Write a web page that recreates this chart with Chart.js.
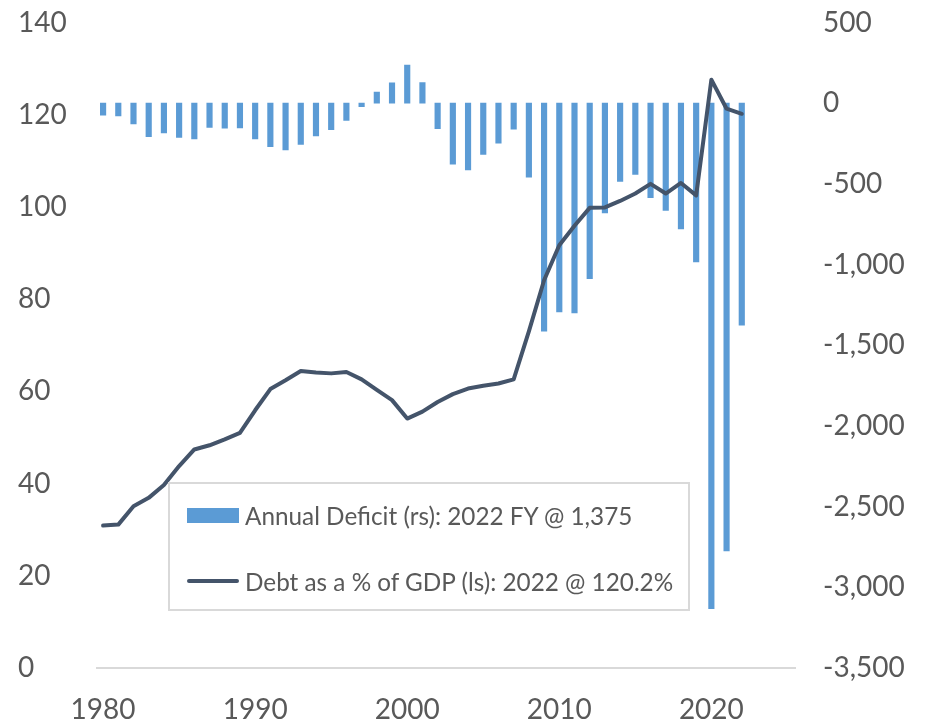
<!DOCTYPE html>
<html>
<head>
<meta charset="utf-8">
<script src="https://cdn.jsdelivr.net/npm/chart.js@4"></script>
<style>
  html, body { margin: 0; padding: 0; background: #fff; }
  #wrap { position: relative; width: 928px; height: 724px; }
  #legend {
    position: absolute; left: 168px; top: 482px; width: 522px; height: 129px;
    box-sizing: border-box; border: 2px solid #d9d9d9;
    font-family: Lato, sans-serif; font-size: 24.3px; color: #595959;
  }
  .item { position: absolute; left: 17px; display: flex; align-items: center; height: 30px; white-space: nowrap; }
  .swatch { width: 52px; margin-right: 6px; }
</style>
</head>
<body>
<div id="wrap">
  <canvas id="debtChart" width="928" height="724"></canvas>
  <div id="legend"></div>
</div>
<script>
// US federal budget: annual surplus/deficit ($bn, right scale) and debt as % of GDP (left scale)
const years = [1980, 1981, 1982, 1983, 1984, 1985, 1986, 1987, 1988, 1989,
  1990, 1991, 1992, 1993, 1994, 1995, 1996, 1997, 1998, 1999,
  2000, 2001, 2002, 2003, 2004, 2005, 2006, 2007, 2008, 2009,
  2010, 2011, 2012, 2013, 2014, 2015, 2016, 2017, 2018, 2019,
  2020, 2021, 2022];

const deficit = [-74, -79, -128, -208, -185, -212, -221, -150, -155, -153,
  -221, -269, -290, -255, -203, -164, -107, -22, 69, 126,
  236, 128, -158, -378, -413, -318, -248, -161, -459, -1413,
  -1294, -1300, -1087, -680, -485, -442, -585, -665, -779, -984,
  -3132, -2775, -1375];

const debtPct = [30.9, 31.1, 35.1, 36.9, 39.7, 43.8, 47.4, 48.3, 49.6, 51.0,
  55.9, 60.5, 62.4, 64.4, 64.1, 63.9, 64.2, 62.6, 60.3, 58.1,
  54.1, 55.6, 57.7, 59.4, 60.6, 61.2, 61.7, 62.6, 73.0, 84.1,
  91.7, 95.9, 99.8, 99.9, 101.3, 102.9, 105.0, 102.9, 105.2, 102.5,
  127.6, 121.3, 120.2];

const xTicks = [1980, 1990, 2000, 2010, 2020];
const seriesLabels = ['Annual Deficit (rs): 2022 FY @ 1,375', 'Debt as a % of GDP (ls): 2022 @ 120.2%'];

const BAR = '#5b9bd5';
const LINE = '#44546a';
const TEXT = '#595959';

Chart.defaults.font.family = "Lato, 'Open Sans', sans-serif";
Chart.defaults.font.size = 28;
Chart.defaults.color = TEXT;

const toXY = vals => vals.map((v, i) => ({ x: years[i], y: v }));

// fixed axis box width; drop the label overhang so the plot spans the full height
const fixWidth = w => s => { s.width = w; s.paddingTop = 0; s.paddingBottom = 0; };

new Chart(document.getElementById('debtChart'), {
  type: 'bar',
  data: {
    datasets: [
      {
        type: 'line',
        label: seriesLabels[1],
        data: toXY(debtPct),
        yAxisID: 'yL',
        borderColor: LINE,
        borderWidth: 4,
        borderJoinStyle: 'round',
        borderCapStyle: 'round',
        pointRadius: 0,
        tension: 0,
        order: 0,
      },
      {
        type: 'bar',
        label: seriesLabels[0],
        data: toXY(deficit),
        yAxisID: 'yR',
        backgroundColor: BAR,
        barThickness: 5.5,
        order: 1,
      }
    ]
  },
  options: {
    responsive: false,
    animation: false,
    layout: { padding: { left: 18, top: 22.5, right: 0, bottom: 0 } },
    plugins: { legend: { display: false }, tooltip: { enabled: false } },
    scales: {
      x: {
        type: 'linear',
        offset: false,
        min: 1979.6,
        max: 2025.5,
        grid: { display: false, drawTicks: false },
        border: { display: true, color: '#d9d9d9', width: 2 },
        afterBuildTicks: s => { s.ticks = xTicks.map(v => ({ value: v })); },
        afterFit: s => { s.height = 56; },
        ticks: { padding: 25, maxRotation: 0, callback: v => String(v) },
      },
      yL: {
        position: 'left',
        min: 0,
        max: 140,
        grid: { display: false, drawTicks: false },
        border: { display: false },
        afterFit: fixWidth(79),
        ticks: { stepSize: 20, padding: 30, crossAlign: 'far' },
      },
      yR: {
        position: 'right',
        min: -3500,
        max: 500,
        grid: { display: false, drawTicks: false },
        border: { display: false },
        afterFit: fixWidth(133),
        ticks: { stepSize: 500, padding: 28, callback: v => v.toLocaleString('en-US') },
      }
    }
  }
});

// legend box inside the plot
const legend = document.getElementById('legend');
const rows = [
  { label: seriesLabels[0], top: 16, swatch: `height:15px;background:${BAR};` },
  { label: seriesLabels[1], top: 82, swatch: `height:4px;border-radius:2px;background:${LINE};` },
];
rows.forEach(r => {
  const el = document.createElement('div');
  el.className = 'item';
  el.style.top = r.top + 'px';
  el.innerHTML = `<span class="swatch" style="${r.swatch}"></span><span>${r.label}</span>`;
  legend.appendChild(el);
});
</script>
</body>
</html>
